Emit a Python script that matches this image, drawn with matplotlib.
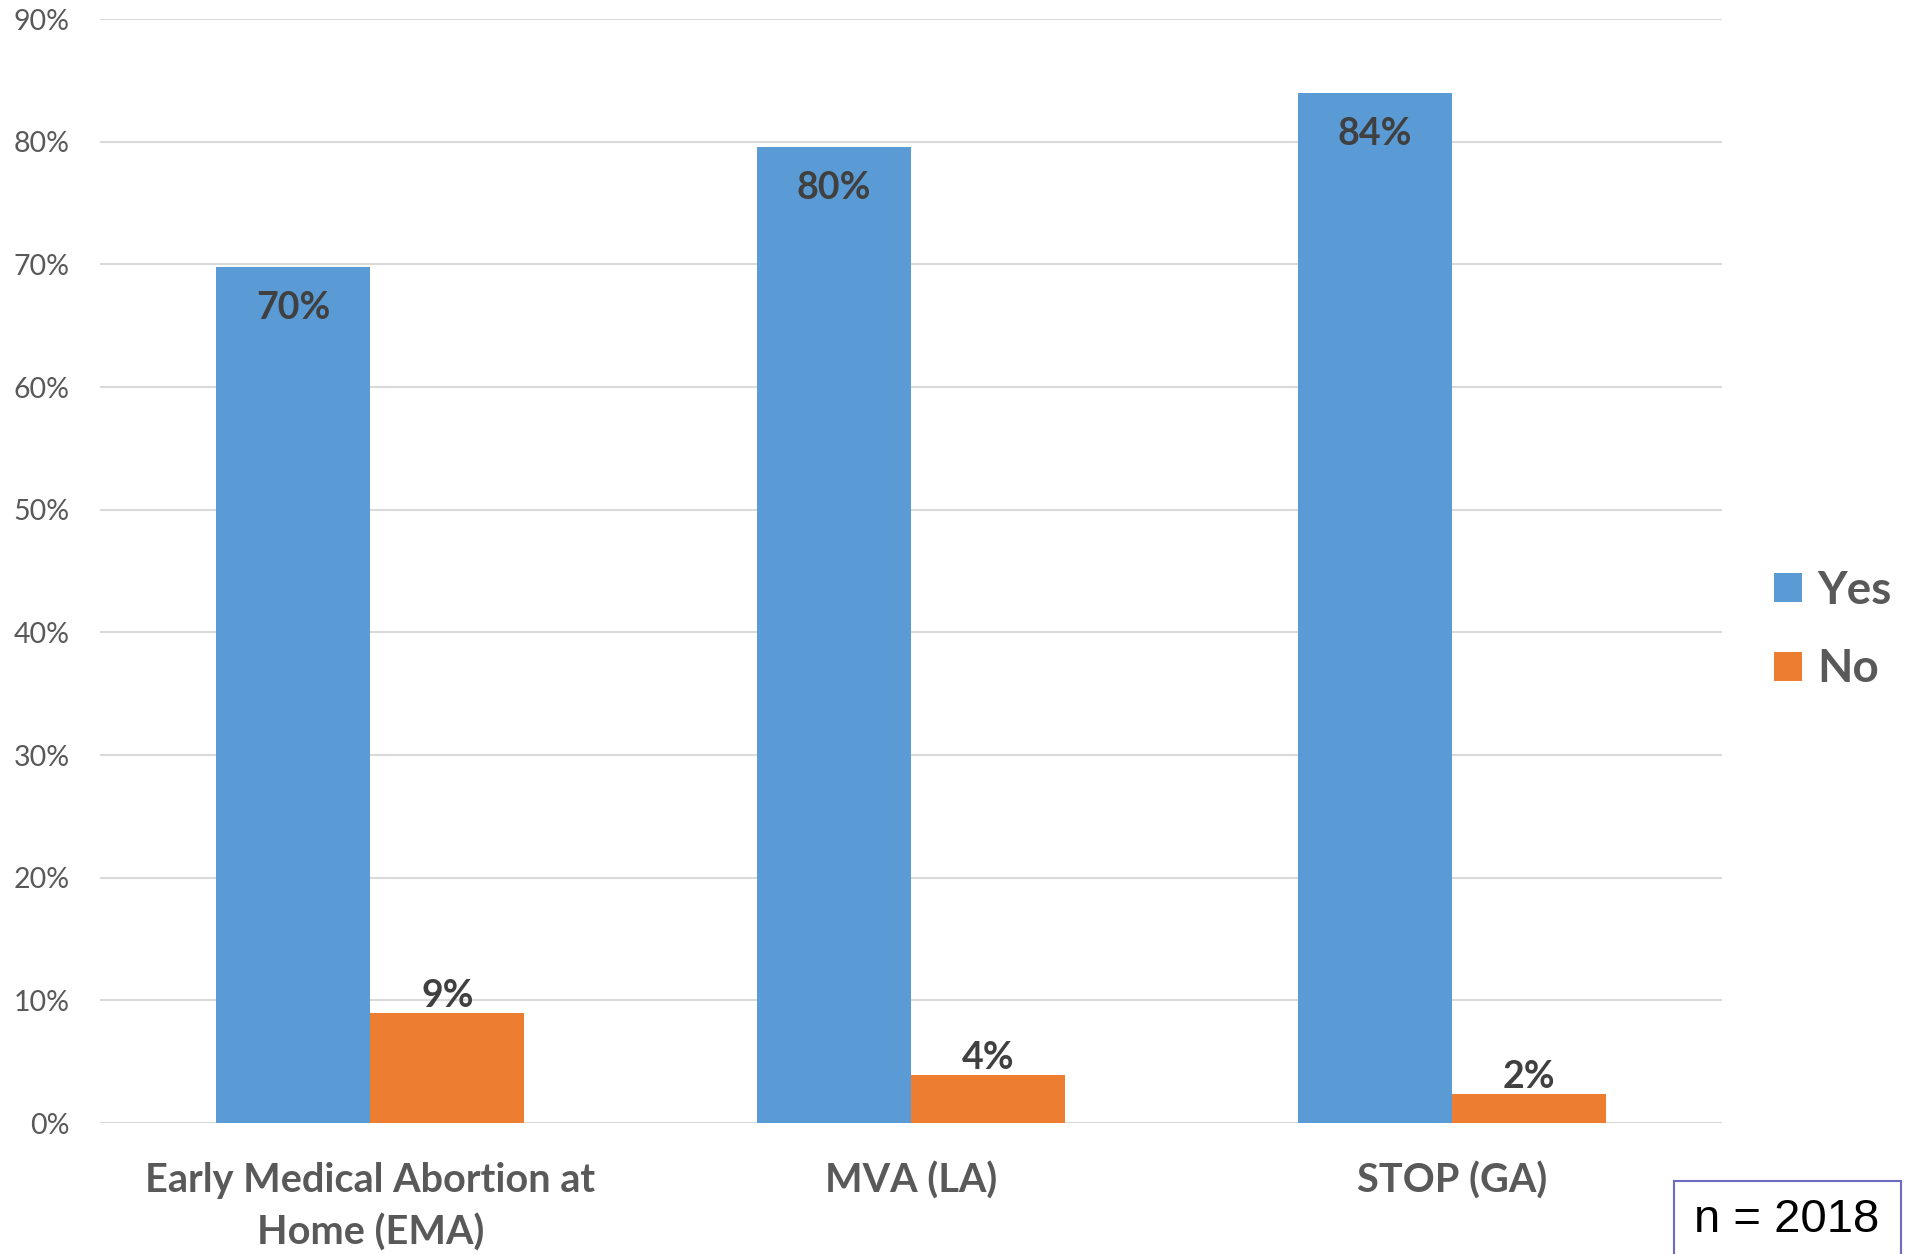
import matplotlib
matplotlib.use("Agg")
import matplotlib.pyplot as plt
from matplotlib.patches import Rectangle
import numpy as np

categories = ["Early Medical Abortion at\nHome (EMA)", "MVA (LA)", "STOP (GA)"]
yes_values = [0.698, 0.796, 0.840]
no_values = [0.090, 0.039, 0.024]
series_names = ["Yes", "No"]
y_ticks = [0.0, 0.1, 0.2, 0.3, 0.4, 0.5, 0.6, 0.7, 0.8, 0.9]
sample_note = "n = 2018"

BLUE = "#5B9BD5"
ORANGE = "#ED7D31"
GRID = "#D9D9D9"
TICK = "#595959"
LABEL = "#404040"

plt.rcParams["font.family"] = ["Lato", "DejaVu Sans"]

fig = plt.figure(figsize=(19.05, 12.54), dpi=100)
ax = fig.add_axes([100 / 1905, 1 - 1123 / 1254, (1722 - 100) / 1905, (1123 - 19) / 1254])

x = np.arange(len(categories))
w = 0.285
bars_yes = ax.bar(x - w / 2, yes_values, w, color=BLUE, label=series_names[0], zorder=3)
bars_no = ax.bar(x + w / 2, no_values, w, color=ORANGE, label=series_names[1], zorder=3)

ax.set_xlim(-0.5, len(categories) - 0.5)
ax.set_ylim(0, 0.9)
ax.set_yticks(y_ticks)
ax.set_yticklabels([f"{int(round(t * 100))}%" for t in y_ticks])
ax.yaxis.grid(True, color=GRID, linewidth=1.5, zorder=0)
ax.set_axisbelow(True)
for s in ax.spines.values():
    s.set_visible(False)
ax.tick_params(axis="y", length=0, pad=22, labelsize=20.5, labelcolor=TICK)
ax.tick_params(axis="x", length=0, pad=28)
ax.set_xticks(x)
ax.set_xticklabels(categories, fontsize=28.5, fontweight="bold", color=TICK, linespacing=1.47)

# value labels: inside the top of the Yes bars, above the No bars
for b, v in zip(bars_yes, yes_values):
    ax.annotate(f"{v * 100:.0f}%", (b.get_x() + b.get_width() / 2, v),
                xytext=(0, -30), textcoords="offset points",
                ha="center", va="center", fontsize=27, fontweight="bold", color=LABEL)
for b, v in zip(bars_no, no_values):
    ax.annotate(f"{v * 100:.0f}%", (b.get_x() + b.get_width() / 2, v),
                xytext=(0, 12), textcoords="offset points",
                ha="center", va="center", fontsize=27, fontweight="bold", color=LABEL)

leg = fig.legend(handles=[bars_yes, bars_no], labels=series_names,
                 loc="center left", bbox_to_anchor=(1774 / 1905, 1 - 630 / 1254),
                 borderaxespad=0, borderpad=0,
                 frameon=False, fontsize=33, handlelength=0.6, handleheight=0.6,
                 handletextpad=0.35, labelspacing=0.8)
for t in leg.get_texts():
    t.set_fontweight("bold")
    t.set_color(TICK)

# sample size box
fig.patches.append(Rectangle((1674 / 1905, -0.01), (1901 - 1674) / 1905, 0.01 + (1254 - 1181) / 1254,
                             transform=fig.transFigure, fill=False,
                             edgecolor="#6B6BBF", linewidth=1.5))
fig.text(1787 / 1905, 1 - 1220 / 1254, sample_note, ha="center", va="center",
         fontsize=34, color="black", family=["Liberation Sans", "DejaVu Sans"])

fig.savefig("out.png", dpi=100)
